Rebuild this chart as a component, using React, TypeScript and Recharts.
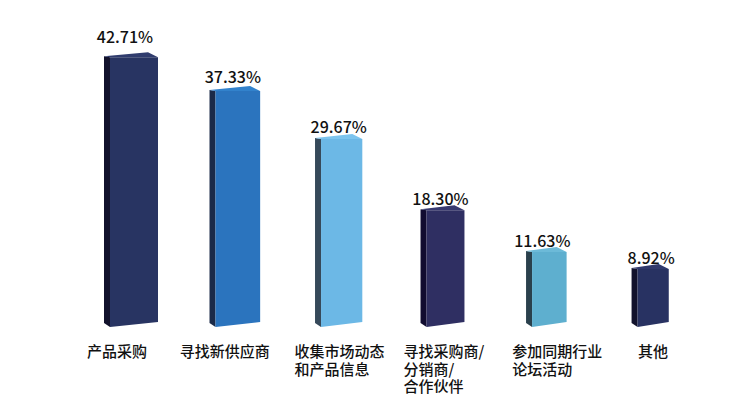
import React from 'react';
import { BarChart, Bar, XAxis, YAxis, LabelList } from 'recharts';

// 参展目的 (%)
const categories = ['产品采购', '寻找新供应商', '收集市场动态和产品信息', '寻找采购商/分销商/合作伙伴', '参加同期行业论坛活动', '其他'];
const tickLines = [
  ['产品采购'],
  ['寻找新供应商'],
  ['收集市场动态', '和产品信息'],
  ['寻找采购商/', '分销商/', '合作伙伴'],
  ['参加同期行业', '论坛活动'],
  ['其他'],
];
const shares = [42.71, 37.33, 29.67, 18.3, 11.63, 8.92];

const FRONT = ['#283462', '#2b74be', '#6cb8e6', '#2f2f62', '#5eafcf', '#283262'];
const SIDE = ['#12122c', '#1b2a48', '#36495a', '#110c30', '#2a404c', '#12122c'];
const TOP = ['#303c6e', '#3282cc', '#7cc4ee', '#383a70', '#6cbad8', '#30396c'];
const LABEL_DX = [-47, -58, -47, -42, -37, -15];
const VALUE_DX = [-9, -5, -3, -5, -7, -2];
const VALUE_DY = [-14, -8, -6, -5, -5, -5];

const FONT = '"Noto Sans CJK SC", "Noto Sans", sans-serif';

const data = categories.map((name, i) => ({ name, value: shares[i], idx: i }));

const Box3D = (props: any) => {
  const { x, y, width, height, index } = props;
  const f = 1 - index * 0.07;
  const w = width * f;
  const cx = x + width / 2;
  const left = cx - w / 2;
  const right = cx + w / 2;
  const base = y + height;
  const d = 6;
  const front = `${left},${y} ${right},${y} ${right},${base - 3} ${left},${base + 2}`;
  const side = `${left - d},${y - 1} ${left},${y} ${left},${base + 2} ${left - d},${base - 2}`;
  const top = `${left - d},${y - 1} ${right - 10},${y - 5} ${right},${y} ${left},${y}`;
  return (
    <g>
      <polygon points={side} fill={SIDE[index]} />
      <polygon points={front} fill={FRONT[index]} />
      <polygon points={top} fill={TOP[index]} />
    </g>
  );
};

const CategoryTick = (props: any) => {
  const { x, y, payload } = props;
  const i = payload.index;
  return (
    <g>
      {tickLines[i].map((line, k) => (
        <text
          key={k}
          x={x + LABEL_DX[i]}
          y={y + 24 + k * 17.5}
          textAnchor="start"
          fontFamily={FONT}
          fontSize={15}
          fontWeight={500}
          fill="#111"
        >
          {line}
        </text>
      ))}
    </g>
  );
};

const ValueLabel = (props: any) => {
  const { x, y, width, value, index } = props;
  return (
    <text
      x={x + width / 2 + VALUE_DX[index]}
      y={y + VALUE_DY[index]}
      textAnchor="middle"
      fontFamily={FONT}
      fontSize={16}
      fontWeight={500}
      fill="#111"
    >
      {`${Number(value).toFixed(2)}%`}
    </text>
  );
};

export default function App() {
  return (
    <div style={{ position: 'absolute', left: 0, top: 0, width: 730, height: 397, background: '#fff' }}>
      <BarChart width={730} height={397} data={data} margin={{ top: 43, right: 25, bottom: 0, left: 82 }}>
        <XAxis
          dataKey="name"
          axisLine={false}
          tickLine={false}
          height={72}
          interval={0}
          tick={<CategoryTick />}
        />
        <YAxis hide domain={[0, 45]} />
        <Bar dataKey="value" barSize={48} shape={<Box3D />} isAnimationActive={false}>
          <LabelList dataKey="value" content={<ValueLabel />} />
        </Bar>
      </BarChart>
    </div>
  );
}
